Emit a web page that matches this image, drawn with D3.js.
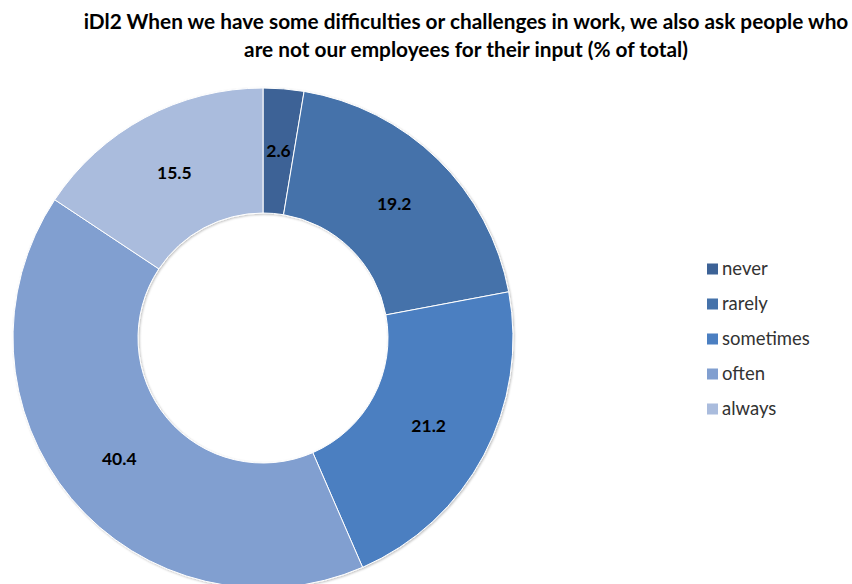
<!DOCTYPE html>
<html>
<head>
<meta charset="utf-8">
<script src="https://cdn.jsdelivr.net/npm/d3@7/dist/d3.min.js"></script>
<style>
  html, body { margin: 0; padding: 0; background: #fff; }
  svg { display: block; }
</style>
</head>
<body>
<svg id="chart" width="852" height="584"></svg>
<script>
// Survey answers (% of total)
const categories = ["never", "rarely", "sometimes", "often", "always"];
const values = [2.6, 19.2, 21.2, 40.4, 15.5];
const colors = ["#3c6296", "#4572aa", "#4b7fc1", "#819fd0", "#aabcdd"];
const titleLines = [
  "iDl2 When we have some difficulties or challenges in work, we also ask people who",
  "are not our employees for their input (% of total)"
];

const svg = d3.select("#chart");

// Title
svg.append("g")
  .selectAll("text")
  .data(titleLines)
  .join("text")
  .attr("x", 466)
  .attr("y", (d, i) => 29 + i * 28)
  .attr("text-anchor", "middle")
  .attr("font-family", "Lato, 'Open Sans', sans-serif")
  .attr("font-weight", "bold")
  .attr("font-size", 20.8)
  .attr("fill", "#000")
  .text(d => d);

// Donut
const cx = 263, cy = 338, rOuter = 250, rInner = 125;
const data = categories.map((c, i) => ({ cat: c, value: values[i], color: colors[i] }));

const pie = d3.pie().value(d => d.value).sort(null);
const arc = d3.arc().innerRadius(rInner).outerRadius(rOuter);
const arcs = pie(data);

const defs = svg.append("defs");
const shadow = defs.append("filter").attr("id", "shade")
  .attr("x", "-10%").attr("y", "-10%").attr("width", "120%").attr("height", "120%");
shadow.append("feDropShadow")
  .attr("dx", 1).attr("dy", 1).attr("stdDeviation", 1.2)
  .attr("flood-color", "#000").attr("flood-opacity", 0.25);

const g = svg.append("g").attr("transform", `translate(${cx},${cy})`);
g.append("g").attr("filter", "url(#shade)")
  .selectAll("path")
  .data(arcs)
  .join("path")
  .attr("d", arc)
  .attr("fill", d => d.data.color)
  .attr("stroke", "#fff")
  .attr("stroke-width", 1);

g.append("g")
  .selectAll("text")
  .data(arcs)
  .join("text")
  .attr("transform", d => `translate(${arc.centroid(d)})`)
  .attr("text-anchor", "middle")
  .attr("dy", "0.35em")
  .attr("font-family", "Lato, 'Open Sans', sans-serif")
  .attr("font-weight", "bold")
  .attr("font-size", 17.5)
  .attr("fill", "#000")
  .text(d => d3.format(".1f")(d.data.value));

// Legend
const legend = svg.append("g").attr("transform", "translate(707,269)");
const items = legend.selectAll("g")
  .data(data)
  .join("g")
  .attr("transform", (d, i) => `translate(0,${i * 35})`);
items.append("rect")
  .attr("x", 0).attr("y", -5.5)
  .attr("width", 11).attr("height", 11)
  .attr("fill", d => d.color);
items.append("text")
  .attr("x", 15).attr("y", 0)
  .attr("dy", "0.35em")
  .attr("font-family", "Lato, 'Open Sans', sans-serif")
  .attr("font-size", 18.5)
  .attr("fill", "#333")
  .text(d => d.cat);
</script>
</body>
</html>
